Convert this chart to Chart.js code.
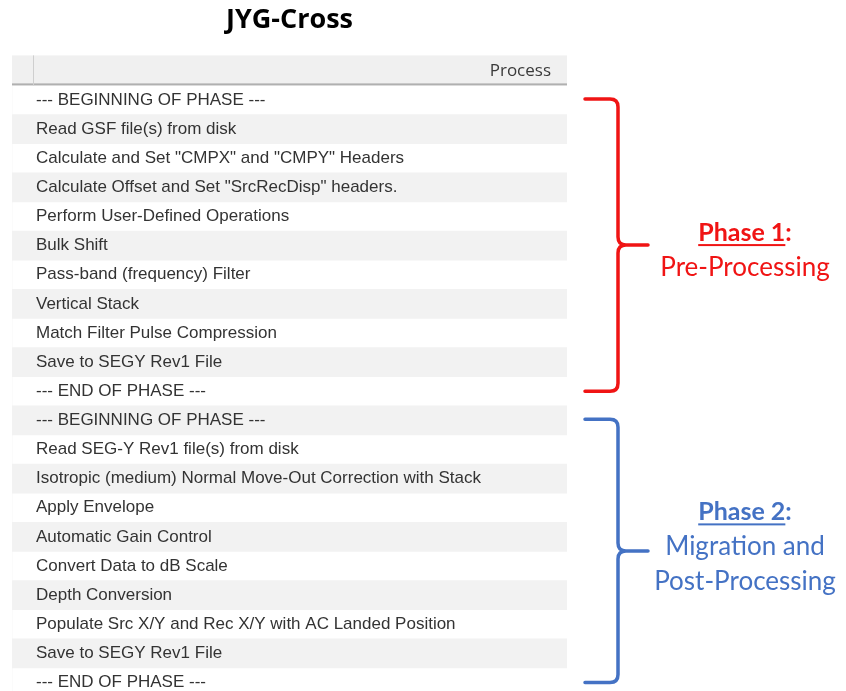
<!DOCTYPE html>
<html>
<head>
<meta charset="utf-8">
<script src="https://cdn.jsdelivr.net/npm/chart.js@4/dist/chart.umd.min.js"></script>
<style>
  html, body { margin: 0; padding: 0; background: #fff; overflow: hidden; }
</style>
</head>
<body>
<canvas id="procChart" width="846" height="697"></canvas>
<script>
// table rows (one process step per row)
const rowLabels = [
  '--- BEGINNING OF PHASE ---',
  'Read GSF file(s) from disk',
  'Calculate and Set "CMPX" and "CMPY" Headers',
  'Calculate Offset and Set "SrcRecDisp" headers.',
  'Perform User-Defined Operations',
  'Bulk Shift',
  'Pass-band (frequency) Filter',
  'Vertical Stack',
  'Match Filter Pulse Compression',
  'Save to SEGY Rev1 File',
  '--- END OF PHASE ---',
  '--- BEGINNING OF PHASE ---',
  'Read SEG-Y Rev1 file(s) from disk',
  'Isotropic (medium) Normal Move-Out Correction with Stack',
  'Apply Envelope',
  'Automatic Gain Control',
  'Convert Data to dB Scale',
  'Depth Conversion',
  'Populate Src X/Y and Rec X/Y with AC Landed Position',
  'Save to SEGY Rev1 File',
  '--- END OF PHASE ---'
];
// 1 = shaded row, 0 = white row
const rowShade = [0, 1, 0, 1, 0, 1, 0, 1, 0, 1, 0, 1, 0, 1, 0, 1, 0, 1, 0, 1, 0];

const headerLabel = 'Process';

// phases (brace groups)
const phaseNames = ['Phase 1', 'Phase 2'];
const phaseSubtitles = [['Pre-Processing'], ['Migration and', 'Post-Processing']];
const phaseFirstRow = [0, 11];
const phaseLastRow = [10, 20];
const phaseColors = ['#f01414', '#4472c4'];

// header + braces + phase labels
const tablePlugin = {
  id: 'tableDecor',
  afterDraw(chart) {
    const { ctx, chartArea } = chart;
    const y = chart.scales.y;
    const left = chartArea.left, right = chartArea.right, top = chartArea.top;

    // header row
    ctx.save();
    ctx.fillStyle = '#f0f0f0';
    ctx.fillRect(left, top - 30, right - left, 30);
    ctx.fillStyle = '#b0b0b0';
    ctx.fillRect(left, top - 2, right - left, 2);
    ctx.fillStyle = '#cfcfcf';
    ctx.fillRect(left + 21, top - 30, 1, 30);
    ctx.fillStyle = '#3a3a3a';
    ctx.font = '17px "Open Sans"';
    ctx.textAlign = 'right';
    ctx.textBaseline = 'middle';
    ctx.fillText(headerLabel, right - 16, top - 14);
    ctx.restore();

    // braces
    phaseNames.forEach((name, i) => {
      const yTop = y.getPixelForValue(phaseFirstRow[i]) - 1;
      const yBot = y.getPixelForValue(phaseLastRow[i]);
      const mid = (yTop + yBot) / 2;
      const x0 = right + 18, x1 = right + 51, xt = right + 81, r = 8;
      ctx.save();
      ctx.strokeStyle = phaseColors[i];
      ctx.lineWidth = 3.5;
      ctx.lineCap = 'round';
      ctx.lineJoin = 'round';
      ctx.beginPath();
      ctx.moveTo(x0, yTop);
      ctx.lineTo(x1 - r, yTop);
      ctx.quadraticCurveTo(x1, yTop, x1, yTop + r);
      ctx.lineTo(x1, mid - r);
      ctx.quadraticCurveTo(x1, mid, x1 + r, mid);
      ctx.lineTo(xt, mid);
      ctx.moveTo(x1 + r, mid);
      ctx.quadraticCurveTo(x1, mid, x1, mid + r);
      ctx.lineTo(x1, yBot - r);
      ctx.quadraticCurveTo(x1, yBot, x1 - r, yBot);
      ctx.lineTo(x0, yBot);
      ctx.stroke();

      // phase label
      const cx = right + 178;
      const lines = phaseSubtitles[i];
      const lineH = 34.5;
      const ty = mid + 14.5 - 26.5 * lines.length;
      ctx.fillStyle = phaseColors[i];
      ctx.textBaseline = 'middle';
      ctx.font = 'bold 25px Lato';
      const wName = ctx.measureText(name).width;
      const wColon = ctx.measureText(':').width;
      const sx = cx - (wName + wColon) / 2;
      ctx.textAlign = 'left';
      ctx.fillText(name, sx, ty);
      ctx.fillText(':', sx + wName, ty);
      ctx.fillRect(sx, ty + 11, wName, 2);
      ctx.font = '26px Lato';
      ctx.textAlign = 'center';
      lines.forEach((ln, k) => {
        ctx.fillText(ln, cx, ty + lineH * (k + 1));
      });
      ctx.restore();
    });
  }
};

const ctx = document.getElementById('procChart').getContext('2d');
new Chart(ctx, {
  type: 'bar',
  data: {
    labels: rowLabels,
    datasets: [{
      data: rowShade,
      backgroundColor: '#f2f2f2',
      borderWidth: 0,
      barPercentage: 1,
      categoryPercentage: 1
    }]
  },
  options: {
    indexAxis: 'y',
    responsive: false,
    animation: false,
    devicePixelRatio: 1,
    layout: { padding: { left: 12, right: 279, top: 0, bottom: 0 } },
    scales: {
      x: { display: false, min: 0, max: 1 },
      y: {
        grid: { display: false },
        border: { display: false },
        afterFit: s => { s.width = 0; s.paddingTop = 0; s.paddingBottom = 0; },
        ticks: {
          z: 1, // labels above the row shading
          mirror: true,
          padding: 24,
          autoSkip: false,
          color: '#333',
          font: { family: '"Liberation Sans", Arial', size: 17 }
        }
      }
    },
    plugins: {
      legend: { display: false },
      tooltip: { enabled: false },
      title: {
        display: true,
        text: 'JYG-Cross',
        color: '#000',
        font: { family: '"Open Sans"', size: 27, weight: 'bold' },
        padding: { top: 4, bottom: 49 }
      }
    }
  },
  plugins: [tablePlugin]
});
</script>
</body>
</html>
